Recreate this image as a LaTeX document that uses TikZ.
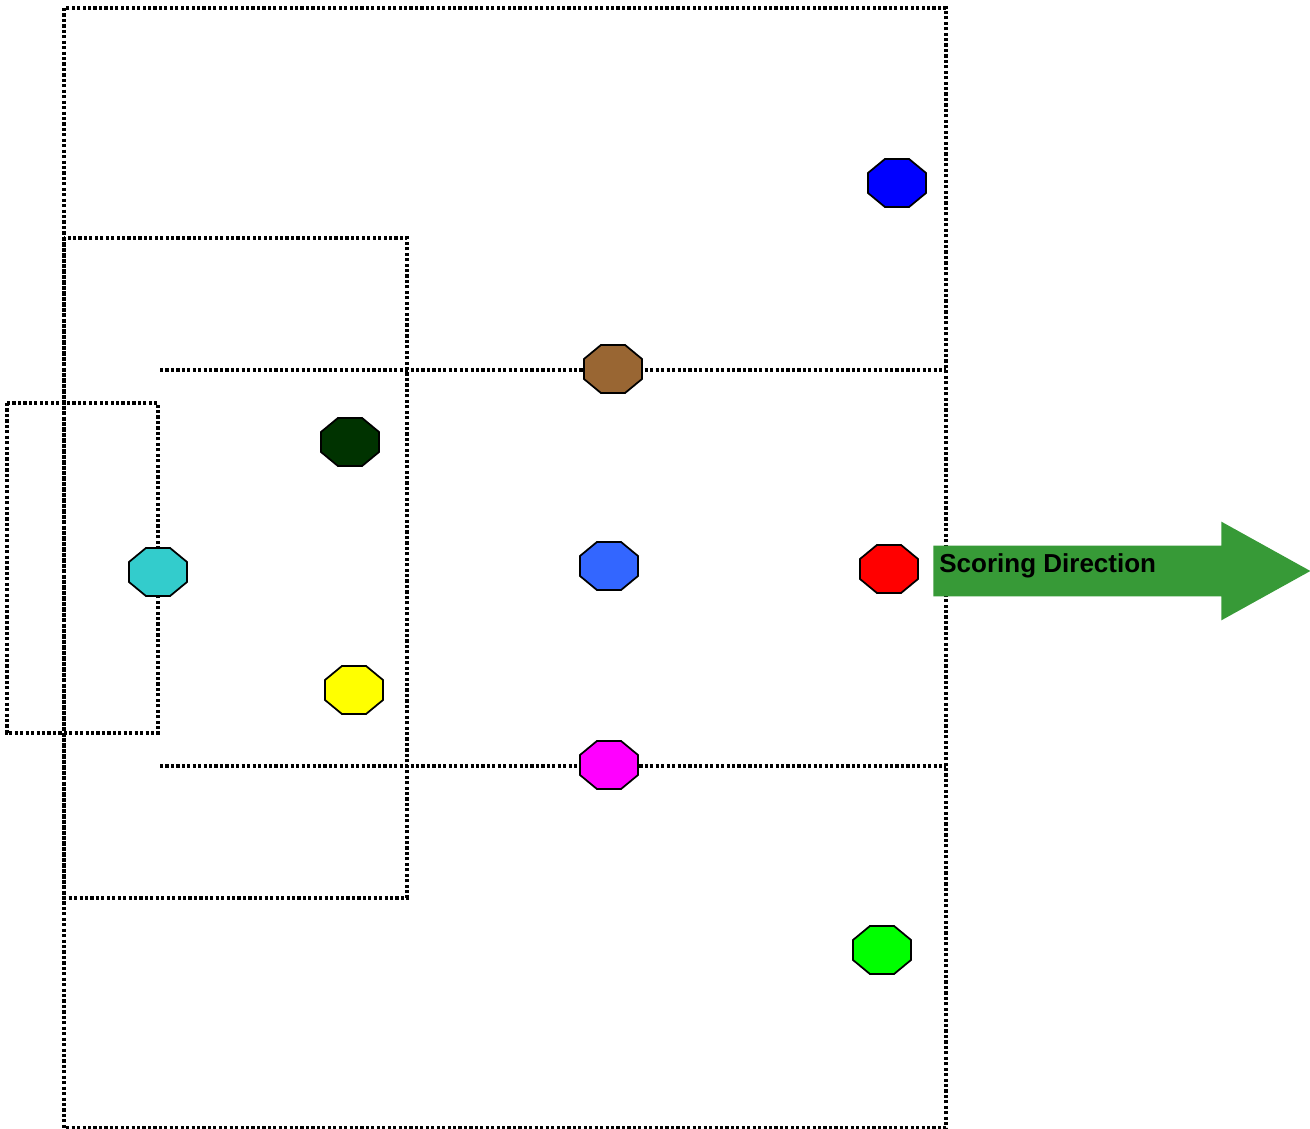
\documentclass[tikz,border=0pt]{standalone}
\usepackage{fontspec}
\setmainfont{Liberation Sans}
\usepackage{xcolor}
\usetikzlibrary{shapes.geometric, shapes.arrows}

\definecolor{pblue}{HTML}{0000FF}
\definecolor{pbrown}{HTML}{996633}
\definecolor{pdarkgreen}{HTML}{003300}
\definecolor{pcyan}{HTML}{33CCCC}
\definecolor{pmidblue}{HTML}{3366FF}
\definecolor{pred}{HTML}{FF0000}
\definecolor{pyellow}{HTML}{FFFF00}
\definecolor{pmagenta}{HTML}{FF00FF}
\definecolor{pgreen}{HTML}{00FF00}
\definecolor{arrowgreen}{HTML}{379A37}

\begin{document}
\begin{tikzpicture}[
    x=0.2mm, y=-0.2mm,
    fieldline/.style={draw=black, line width=2.2pt,
                      dash pattern=on 1.8pt off 1.3pt},
    player/.style={
      regular polygon, regular polygon sides=8,
      draw=black, line width=1pt,
      minimum size=10.4mm, inner sep=0pt,
      transform shape, xscale=1.21,
      fill=#1
    },
    player/.default=pblue,
    dirarrow/.style={single arrow, fill=arrowgreen, draw=none,
                     minimum height=75.4mm, minimum width=19.6mm,
                     inner xsep=0pt, inner ysep=5mm,
                     single arrow head extend=4.8mm,
                     single arrow tip angle=58},
    dirlbl/.style={font=\fontsize{14.8}{17}\selectfont\bfseries,
                   inner sep=0pt},
  ]

  \useasboundingbox (0,0) rectangle (1310,1129);

  %% ── Field markings ────────────────────────────────────────────────────
  \draw[fieldline] (64,8)   rectangle (946,1128);   % half field
  \draw[fieldline] (64,238) rectangle (407,898);    % penalty area
  \draw[fieldline] (7,403)  rectangle (158,733);    % goal area
  \draw[fieldline] (160,370) -- (946,370);
  \draw[fieldline] (160,766) -- (946,766);

  %% ── Players ───────────────────────────────────────────────────────────
  \node[player=pblue]      (forward)   at (897,183) {};
  \node[player=pbrown]     (midtop)    at (613,369) {};
  \node[player=pdarkgreen] (deftop)    at (350,442) {};
  \node[player=pcyan]      (keeper)    at (158,572) {};
  \node[player=pmidblue]   (midcenter) at (609,566) {};
  \node[player=pred]       (striker)   at (889,569) {};
  \node[player=pyellow]    (defbottom) at (354,690) {};
  \node[player=pmagenta]   (midbottom) at (609,765) {};
  \node[player=pgreen]     (winger)    at (882,950) {};

  %% ── Scoring direction ─────────────────────────────────────────────────
  \node[dirarrow, anchor=tail] (direction) at (933,571) {};
  \node[dirlbl, anchor=base west] (dirtext) at (939,573) {Scoring Direction};

\end{tikzpicture}
\end{document}
